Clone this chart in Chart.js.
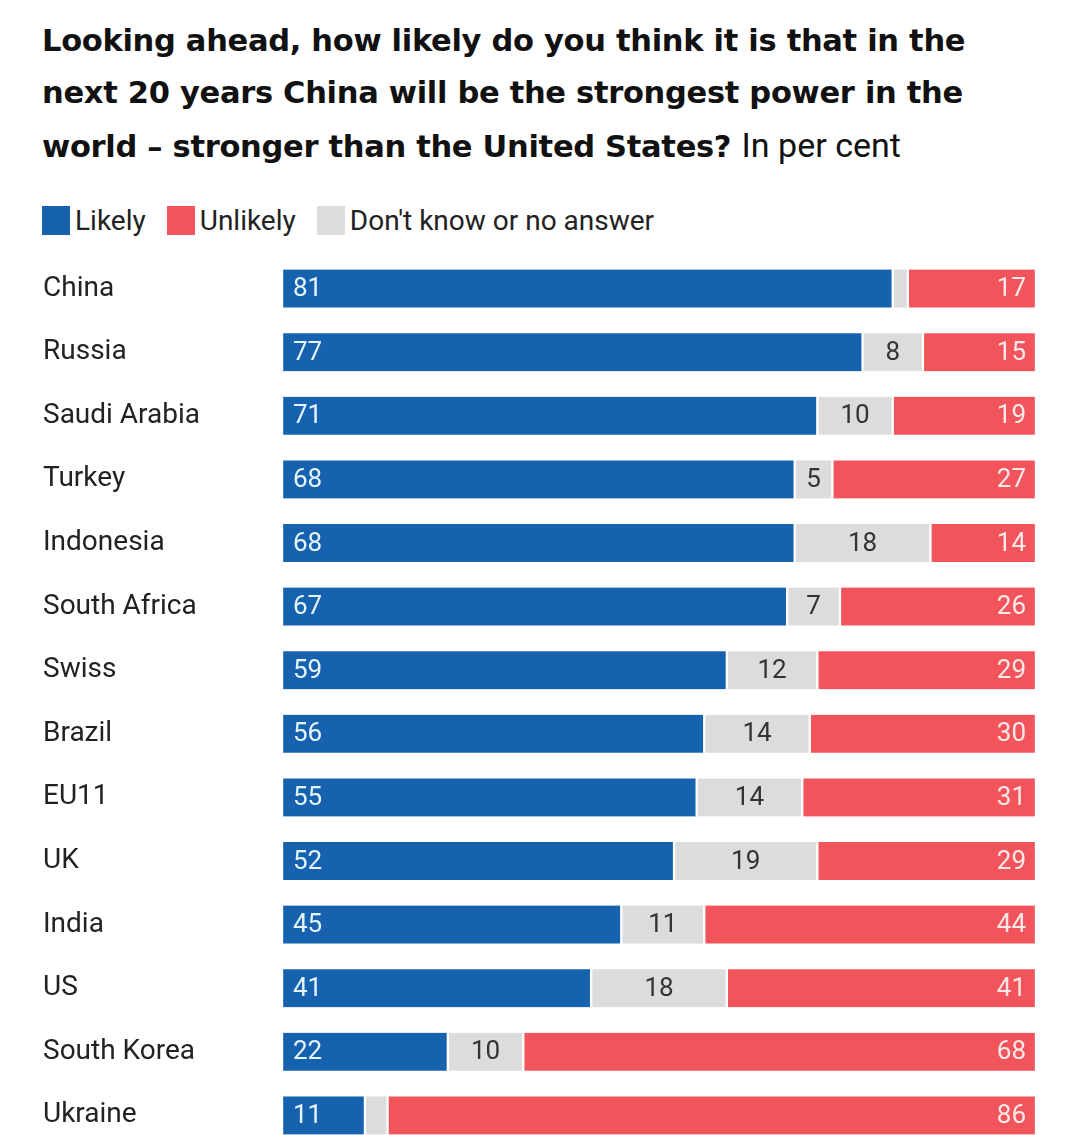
<html>
<head>
  <script src="https://cdn.jsdelivr.net/npm/chart.js@4/dist/chart.umd.min.js"></script>
  <style>
    body { margin: 0; background: #fff; overflow: hidden; width: 1080px; height: 1135px; position: relative; font-family: Roboto, "Liberation Sans", sans-serif; color: #222; }
    #title { position: absolute; left: 42px; top: 15px; font-family: "DejaVu Sans", Lato, sans-serif; font-weight: 700; font-size: 30.5px; line-height: 52px; color: #111; white-space: nowrap; letter-spacing: -0.3px; }
    #title span { font-weight: 400; font-family: Roboto, sans-serif; font-size: 34px; letter-spacing: 0; }
    #legend { position: absolute; left: 42px; top: 204px; font-size: 28px; display: flex; align-items: center; white-space: nowrap; }
    .sw { display: inline-block; width: 28px; height: 29px; margin-right: 5px; }
    .item { display: flex; align-items: center; margin-right: 21px; }
    #wrap { position: absolute; left: 0; top: 240px; }
  </style>
</head>
<body>
  <div id="title">Looking ahead, how likely do you think it is that in the<br>next 20 years China will be the strongest power in the<br>world – stronger than the United States? <span>In per cent</span></div>
  <div id="legend">
    <div class="item"><span class="sw" style="background:#1762ae"></span>Likely</div>
    <div class="item"><span class="sw" style="background:#f2545b"></span>Unlikely</div>
    <div class="item"><span class="sw" style="background:#dcdcdc"></span>Don't know or no answer</div>
  </div>
  <div id="wrap"><canvas id="myChart" width="1080" height="924"></canvas></div>
  <script>
    var countries = ["China", "Russia", "Saudi Arabia", "Turkey", "Indonesia", "South Africa", "Swiss", "Brazil", "EU11", "UK", "India", "US", "South Korea", "Ukraine"];
    var likely   = [81, 77, 71, 68, 68, 67, 59, 56, 55, 52, 45, 41, 22, 11];
    var dontKnow = [2, 8, 10, 5, 18, 7, 12, 14, 14, 19, 11, 18, 10, 3];
    var unlikely = [17, 15, 19, 27, 14, 26, 29, 30, 31, 29, 44, 41, 68, 86];

    var labelFont = '26px Roboto, "Liberation Sans", sans-serif';

    // draws the numbers inside the bar segments
    var barLabels = {
      id: 'barLabels',
      afterDatasetsDraw: function (chart) {
        var ctx = chart.ctx;
        ctx.save();
        ctx.font = labelFont;
        ctx.textBaseline = 'middle';
        chart.data.datasets.forEach(function (ds, i) {
          var meta = chart.getDatasetMeta(i);
          meta.data.forEach(function (bar, j) {
            var v = ds.data[j];
            var left = Math.min(bar.x, bar.base), right = Math.max(bar.x, bar.base);
            if (i == 0) {
              ctx.fillStyle = '#e6f4ff';
              ctx.textAlign = 'left';
              ctx.fillText(v, left + 11, bar.y + 1);
            } else if (i == 1) {
              if (v < 5) return;
              ctx.fillStyle = '#333';
              ctx.textAlign = 'center';
              ctx.fillText(v, (left + right) / 2, bar.y + 1);
            } else {
              ctx.fillStyle = '#fde9e9';
              ctx.textAlign = 'right';
              ctx.fillText(v, right - 10, bar.y + 1);
            }
          });
        });
        ctx.restore();
      }
    };

    var ctx = document.getElementById('myChart').getContext('2d');
    var myChart = new Chart(ctx, {
      type: 'bar',
      data: {
        labels: countries,
        datasets: [{
          label: 'Likely',
          data: likely,
          backgroundColor: '#1762ae'
        }, {
          label: "Don't know or no answer",
          data: dontKnow,
          backgroundColor: '#dcdcdc'
        }, {
          label: 'Unlikely',
          data: unlikely,
          backgroundColor: '#f2545b'
        }]
      },
      options: {
        indexAxis: 'y',
        responsive: false,
        animation: false,
        layout: { padding: { left: 43, right: 44, top: 0, bottom: 0 } },
        datasets: {
          bar: {
            barThickness: 38,
            borderColor: '#ffffff',
            borderWidth: { left: 1.5, right: 1.5, top: 0, bottom: 0 },
            borderSkipped: false
          }
        },
        plugins: {
          legend: { display: false },
          tooltip: { enabled: false }
        },
        scales: {
          x: { stacked: true, min: 0, max: 100, display: false },
          y: {
            stacked: true,
            grid: { display: false },
            border: { display: false },
            afterFit: function (scale) { scale.width = 239; },
            ticks: {
              crossAlign: 'far',
              padding: 0,
              color: '#222',
              font: { family: 'Roboto, "Liberation Sans", sans-serif', size: 28 }
            }
          }
        }
      },
      plugins: [barLabels]
    });
  </script>
</body>
</html>
